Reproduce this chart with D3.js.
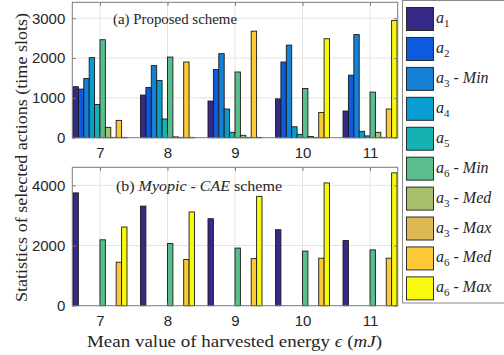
<!DOCTYPE html>
<html>
<head>
<meta charset="utf-8">
<script src="https://cdn.jsdelivr.net/npm/d3@7"></script>
<style>
  body { margin: 0; background: #fff; }
  svg { display: block; }
  .serif { font-family: "Liberation Serif", "DejaVu Serif", "Times New Roman", serif; }
  .sans { font-family: "Liberation Sans", Arial, Helvetica, sans-serif; }
</style>
</head>
<body>
<svg id="chart" width="504" height="355"></svg>
<script>
// Mean harvested energy (mJ) – one bar group per value
const energy = [7, 8, 9, 10, 11];

// Action series: subscript index and optional level suffix for the legend
const actionIndex  = ["1", "2", "3", "4", "5", "6", "3", "3", "6", "6"];
const actionLevel  = ["", "", "Min", "", "", "Min", "Med", "Max", "Med", "Max"];
const actionColors = ["#352a87", "#0f5bdd", "#1481d6", "#079dd1", "#14b2b3",
                      "#59bd8c", "#a8bf6c", "#dfb953", "#fcc936", "#f8f90f"];

// (a) Proposed scheme – time slots per action, one row per series
const proposedA1    = [1280, 1070,  920,  975,  670];
const proposedA2    = [1220, 1260, 1710, 1900, 1570];
const proposedA3Min = [1485, 1810, 2110, 2325, 2590];
const proposedA4    = [2010, 1435,  720,  275,  160];
const proposedA5    = [ 835,  470,  135,   85,   45];
const proposedA6Min = [2460, 2025, 1650, 1235, 1145];
const proposedA3Med = [ 260,   20,   60,   30,  135];
const proposedA3Max = [   8,    8,    8,    8,    8];
const proposedA6Med = [ 435, 1900, 2675,  635,  720];
const proposedA6Max = [   8,    8,    8, 2485, 2945];

// (b) Myopic - CAE scheme
const myopicA1    = [3750, 3310, 2890, 2525, 2165];
const myopicA2    = [0, 0, 0, 0, 0];
const myopicA3Min = [0, 0, 0, 0, 0];
const myopicA4    = [0, 0, 0, 0, 0];
const myopicA5    = [0, 0, 0, 0, 0];
const myopicA6Min = [2190, 2065, 1915, 1815, 1855];
const myopicA3Med = [0, 0, 0, 0, 0];
const myopicA3Max = [0, 0, 0, 0, 0];
const myopicA6Med = [1445, 1535, 1565, 1580, 1580];
const myopicA6Max = [2615, 3115, 3635, 4080, 4415];

const proposedTicks = [0, 1000, 2000, 3000];
const myopicTicks   = [0, 2000, 4000];

const proposedSeries = [proposedA1, proposedA2, proposedA3Min, proposedA4, proposedA5,
                        proposedA6Min, proposedA3Med, proposedA3Max, proposedA6Med, proposedA6Max];
const myopicSeries   = [myopicA1, myopicA2, myopicA3Min, myopicA4, myopicA5,
                        myopicA6Min, myopicA3Med, myopicA3Max, myopicA6Med, myopicA6Max];

const svg = d3.select("#chart");

const left = 72.3, right = 397.7;
const x = d3.scaleLinear().domain([6.59, 11.41]).range([left, right]);
const groupWidth = 0.8;
const nSeries = proposedSeries.length;
const barW = groupWidth / nSeries;

function drawPanel(top, bottom, yMax, ticks, series) {
  const y = d3.scaleLinear().domain([0, yMax]).range([bottom, top]);
  const g = svg.append("g");

  // grid
  g.append("g").selectAll("line").data(ticks.filter(t => t > 0)).join("line")
    .attr("x1", left).attr("x2", right)
    .attr("y1", d => y(d)).attr("y2", d => y(d))
    .attr("stroke", "#e3e3e3").attr("stroke-width", 1);
  g.append("g").selectAll("line").data(energy).join("line")
    .attr("x1", d => x(d)).attr("x2", d => x(d))
    .attr("y1", top).attr("y2", bottom)
    .attr("stroke", "#e3e3e3").attr("stroke-width", 1);

  // bars
  series.forEach((vals, si) => {
    g.append("g").selectAll("rect").data(vals).join("rect")
      .attr("x", (d, i) => x(energy[i] - groupWidth / 2 + si * barW))
      .attr("width", x(barW) - x(0))
      .attr("y", d => y(d))
      .attr("height", d => y(0) - y(d))
      .attr("fill", actionColors[si])
      .attr("stroke", "#1a1a1a")
      .attr("stroke-width", 0.9);
  });

  // axes box with inward ticks
  const axisCol = "#7a7a7a";
  g.append("rect").attr("x", left).attr("y", top)
    .attr("width", right - left).attr("height", bottom - top)
    .attr("fill", "none").attr("stroke", axisCol).attr("stroke-width", 1);

  const yAxisL = d3.axisLeft(y).tickValues(ticks).tickSize(-3.5).tickFormat(d3.format("d")).tickPadding(7);
  const yAxisR = d3.axisRight(y).tickValues(ticks).tickSize(-3.5).tickFormat("");
  const xAxisB = d3.axisBottom(x).tickValues(energy).tickSize(-3.5).tickFormat(d3.format("d")).tickPadding(10);
  const xAxisT = d3.axisTop(x).tickValues(energy).tickSize(-3.5).tickFormat("");

  [[yAxisL, `translate(${left},0)`], [yAxisR, `translate(${right},0)`],
   [xAxisB, `translate(0,${bottom})`], [xAxisT, `translate(0,${top})`]].forEach(([ax, tr]) => {
    const a = g.append("g").attr("transform", tr).call(ax);
    a.attr("font-family", null).attr("font-size", null);
    a.select(".domain").remove();
    a.selectAll(".tick line").attr("stroke", axisCol);
    a.selectAll("text").attr("class", "sans").attr("font-size", 15).attr("fill", "#262626");
  });
  return y;
}

drawPanel(2.3, 137.7, 3400, proposedTicks, proposedSeries);
drawPanel(167.3, 305.7, 4600, myopicTicks, myopicSeries);

// panel titles
svg.append("text").attr("class", "serif").attr("x", 113).attr("y", 23.5)
  .attr("font-size", 15.5).attr("fill", "#262626")
  .attr("textLength", 124).attr("lengthAdjust", "spacingAndGlyphs")
  .text("(a) Proposed scheme");

const tb = svg.append("text").attr("class", "serif").attr("x", 116).attr("y", 190.5)
  .attr("font-size", 15.5).attr("fill", "#262626")
  .attr("textLength", 166).attr("lengthAdjust", "spacingAndGlyphs");
tb.append("tspan").text("(b) ");
tb.append("tspan").attr("font-style", "italic").text("Myopic");
tb.append("tspan").text(" - ");
tb.append("tspan").attr("font-style", "italic").text("CAE");
tb.append("tspan").text(" scheme");

// axis labels
const xl = svg.append("text").attr("class", "serif").attr("x", 87).attr("y", 346.5)
  .attr("font-size", 17).attr("fill", "#262626")
  .attr("textLength", 295).attr("lengthAdjust", "spacingAndGlyphs");
xl.append("tspan").text("Mean value of harvested energy ");
xl.append("tspan").attr("font-style", "italic").text("ϵ");
xl.append("tspan").text(" (");
xl.append("tspan").attr("font-style", "italic").text("mJ");
xl.append("tspan").text(")");

svg.append("text").attr("class", "serif")
  .attr("transform", "translate(26.5,302) rotate(-90)")
  .attr("font-size", 16.5).attr("fill", "#262626")
  .attr("textLength", 289).attr("lengthAdjust", "spacingAndGlyphs")
  .text("Statistics of selected actions (time slots)");

// legend
const legend = svg.append("g");
legend.append("rect").attr("x", 402.5).attr("y", 0.5).attr("width", 120).attr("height", 302.5)
  .attr("fill", "#fff").attr("stroke", "#8a8a8a").attr("stroke-width", 1);

actionColors.forEach((c, i) => {
  const cy = 19 + i * 29.93;
  legend.append("rect").attr("x", 406.5).attr("y", cy - 11.5).attr("width", 27).attr("height", 23)
    .attr("fill", c).attr("stroke", "#1a1a1a").attr("stroke-width", 0.9);
  const t = legend.append("text").attr("class", "serif").attr("x", 436).attr("y", cy + 4)
    .attr("font-size", 16).attr("fill", "#262626");
  t.append("tspan").attr("font-style", "italic").text("a");
  t.append("tspan").attr("font-size", 11).attr("dy", 4).text(actionIndex[i]);
  if (actionLevel[i]) {
    t.append("tspan").attr("dy", -4).text(" - ");
    t.append("tspan").attr("font-style", "italic").text(actionLevel[i]);
  }
});
</script>
</body>
</html>
